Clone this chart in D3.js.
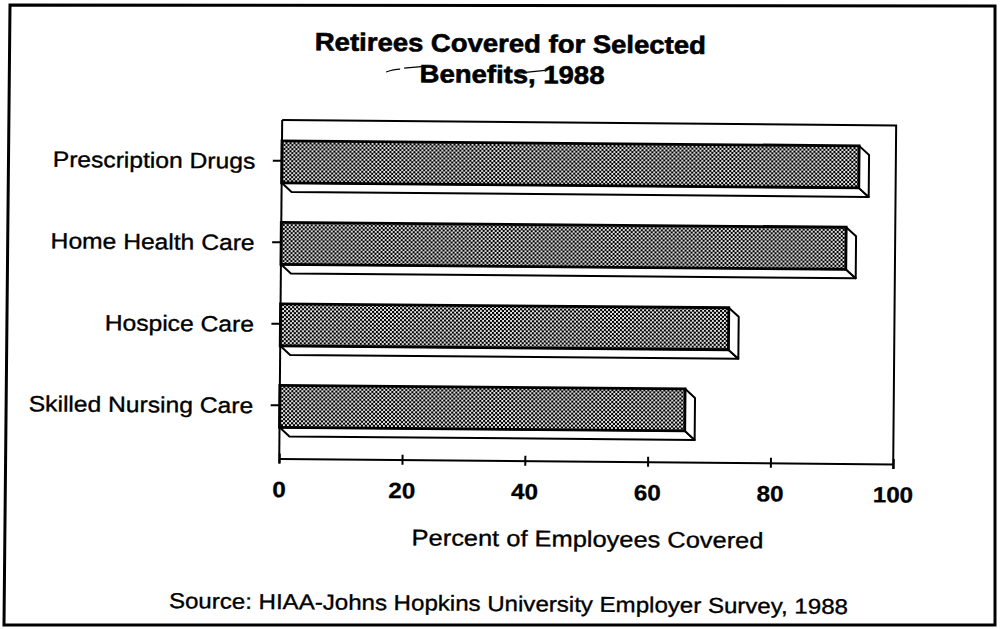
<!DOCTYPE html>
<html><head><meta charset="utf-8">
<script src="https://cdn.jsdelivr.net/npm/d3@7"></script>
<style>
html,body{margin:0;padding:0;background:#fff;}
svg{display:block;}
text{font-family:"Liberation Sans",Arial,Helvetica,sans-serif;fill:#000;}
</style></head><body>
<script>
// Chart data
const categories = ["Prescription Drugs", "Home Health Care", "Hospice Care", "Skilled Nursing Care"];
const values = [94, 92, 73, 66];
const xTicks = [0, 20, 40, 60, 80, 100];
const titleLines = ["Retirees Covered for Selected", "Benefits, 1988"];
const xTitle = "Percent of Employees Covered";
const sourceNote = "Source: HIAA-Johns Hopkins University Employer Survey, 1988";

const W = 1003, H = 629;
const SX = 1.1;            // horizontal stretch of the typeface
const DEPTH_X = 10, DEPTH_Y = 9, BAR_H = 42;

const svg = d3.select("body").append("svg").attr("width", W).attr("height", H);

// halftone dot fill for the bar faces
const pat = svg.append("defs").append("pattern")
  .attr("id", "dots").attr("patternUnits", "userSpaceOnUse")
  .attr("width", 4).attr("height", 4);
pat.append("rect").attr("width", 4).attr("height", 4).attr("fill", "#fff");
pat.append("circle").attr("cx", 1).attr("cy", 1).attr("r", 1.3).attr("fill", "#000");
pat.append("circle").attr("cx", 3).attr("cy", 3).attr("r", 1.3).attr("fill", "#000");

// outer frame
svg.append("path")
  .attr("d", "M10,5 L995,6 L995,625 L4,625 Z")
  .attr("fill", "none").attr("stroke", "#000").attr("stroke-width", 3);

const g = svg.append("g").attr("transform", "rotate(0.5,501,314)");

const x = d3.scaleLinear().domain([0, 100]).range([280.5, 894.5]);
const y = d3.scaleBand().domain(categories).range([122, 448]);
const plotTop = 122, plotBottom = 460.5;

function stretched(parent, str, px, py, size, weight, anchor, thick, sx) {
  parent.append("g")
    .attr("transform", `translate(${px},${py}) scale(${sx || SX},1)`)
    .append("text")
    .attr("text-anchor", anchor || "middle")
    .attr("font-size", size)
    .attr("font-weight", weight || "normal")
    .attr("stroke", "#000")
    .attr("stroke-width", thick || 0.35)
    .text(str);
}

// title
stretched(g, titleLines[0], 508, 52, 25, "bold", "middle", 0.6);
stretched(g, titleLines[1], 510, 83, 25, "bold", "middle", 0.6);
// pen marks around the second title line
g.append("path").attr("d", "M384,73 Q392,70 398,70 M402,69 L422,67")
  .attr("fill", "none").attr("stroke", "#000").attr("stroke-width", 1.2);
g.append("path").attr("d", "M516,73 L543,70")
  .attr("fill", "none").attr("stroke", "#000").attr("stroke-width", 1.4);

// plot frame: top and right edges
g.append("path")
  .attr("d", `M${x(0)},${plotTop} L${x(100)},${plotTop} L${x(100)},${plotBottom + 5}`)
  .attr("fill", "none").attr("stroke", "#000").attr("stroke-width", 2);

// bars
const bars = g.selectAll("g.bar").data(categories.map((c, i) => ({ c, v: values[i] })))
  .enter().append("g").attr("class", "bar");

bars.each(function (d) {
  const sel = d3.select(this);
  const x0 = x(0), xe = x(d.v);
  const yt = y(d.c) + y.bandwidth() / 2 - 20, yb = yt + BAR_H;
  sel.append("path")
    .attr("d", `M${x0},${yb} L${x0 + DEPTH_X},${yb + DEPTH_Y} L${xe + DEPTH_X},${yb + DEPTH_Y} L${xe},${yb} Z`)
    .attr("fill", "#fff").attr("stroke", "#000").attr("stroke-width", 2).attr("stroke-linejoin", "round");
  sel.append("path")
    .attr("d", `M${xe},${yt} L${xe + DEPTH_X},${yt + DEPTH_Y} L${xe + DEPTH_X},${yb + DEPTH_Y} L${xe},${yb} Z`)
    .attr("fill", "#fff").attr("stroke", "#000").attr("stroke-width", 2).attr("stroke-linejoin", "round");
  sel.append("rect")
    .attr("x", x0).attr("y", yt).attr("width", xe - x0).attr("height", BAR_H)
    .attr("fill", "url(#dots)").attr("stroke", "#000").attr("stroke-width", 2.8);
});

// y axis
const yAxis = g.append("g").attr("transform", `translate(${x(0)},0)`)
  .call(d3.axisLeft(y).tickSize(9).tickFormat(""));
yAxis.select(".domain").remove();
yAxis.selectAll(".tick line").attr("stroke", "#000").attr("stroke-width", 2);
g.append("line").attr("x1", x(0)).attr("x2", x(0)).attr("y1", plotTop).attr("y2", plotBottom + 5)
  .attr("stroke", "#000").attr("stroke-width", 2);

categories.forEach(c => {
  stretched(g, c, 254, y(c) + y.bandwidth() / 2 + 8, 22, "normal", "end", 0.35, 1.12);
});

// x axis
const xAxis = g.append("g").attr("transform", `translate(0,${plotBottom})`)
  .call(d3.axisBottom(x).tickValues(xTicks).tickSize(0).tickFormat(""));
xAxis.select(".domain").attr("stroke", "#000").attr("stroke-width", 2);
xAxis.selectAll(".tick line").attr("y1", -5).attr("y2", 5).attr("stroke", "#000").attr("stroke-width", 2);

xTicks.forEach(t => stretched(g, String(t), x(t), 499, 22, "bold", "middle", 0.3));

stretched(g, xTitle, (x(0) + x(100)) / 2 + 2, 546, 22.5, "normal", "middle", 0.35, 1.13);
stretched(g, sourceNote, 511, 611, 21.5, "normal", "middle", 0.35, 1.12);
</script>
</body></html>
